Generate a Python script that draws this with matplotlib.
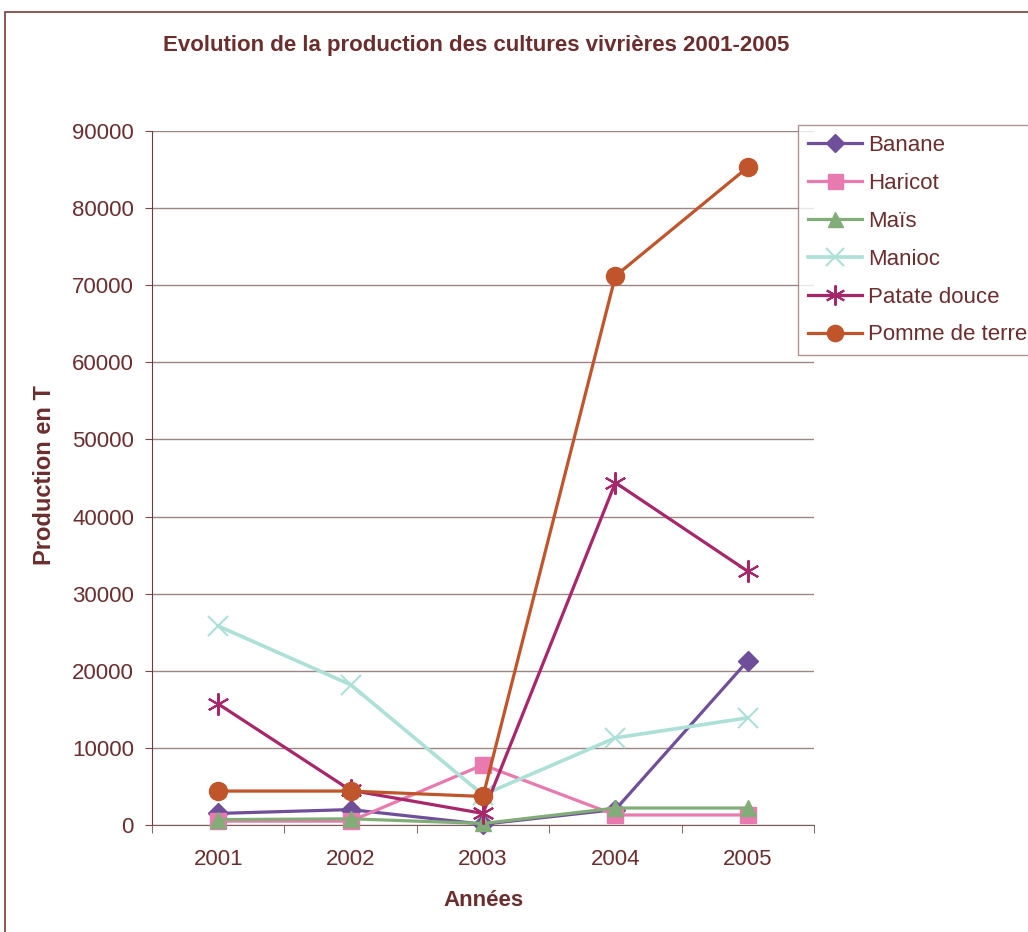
import matplotlib
matplotlib.use("Agg")
import matplotlib.pyplot as plt
from matplotlib.patches import Rectangle

plt.rcParams['font.family'] = ['Liberation Sans', 'DejaVu Sans']

years = ["2001", "2002", "2003", "2004", "2005"]
banane = [1500, 2000, 100, 2000, 21300]
haricot = [500, 500, 7800, 1300, 1300]
mais = [700, 800, 200, 2200, 2200]
manioc = [25800, 18200, 3900, 11300, 13900]
patate_douce = [15700, 4500, 1500, 44400, 32900]
pomme_de_terre = [4400, 4400, 3700, 71200, 85300]

series = [
    ("Banane", banane, "#6f4f99", "D", 10, 2.3),
    ("Haricot", haricot, "#e87aaf", "s", 12, 2.3),
    ("Maïs", mais, "#82ad78", "^", 12, 2.3),
    ("Manioc", manioc, "#ade0d6", "x", 14, 2.6),
    ("Patate douce", patate_douce, "#a8266a", (6, 2, 0), 16, 2.3),
    ("Pomme de terre", pomme_de_terre, "#c0552b", "o", 13, 2.3),
]

W, H = 1028, 932
fig = plt.figure(figsize=(W / 100, H / 100), dpi=100)
ax = fig.add_axes([152 / W, 1 - 825 / H, (814 - 152) / W, (825 - 131) / H])

x = list(range(len(years)))
for name, vals, col, mk, ms, lw in series:
    ax.plot(x, vals, color=col, lw=lw, marker=mk, ms=ms, mfc=col, mec=col,
            mew=1.5 if mk in ("x", (6, 2, 0)) else 1, label=name, clip_on=False, zorder=3)

textcol = "#6b2d2d"
gridcol = "#9c8585"
ax.set_xlim(-0.5, 4.5)
ax.set_ylim(0, 90000)
ax.set_yticks(range(0, 90001, 10000))
ax.set_yticklabels([str(v) for v in range(0, 90001, 10000)])
ax.set_xticks(x)
ax.set_xticklabels(years)
ax.set_xticks([i - 0.5 for i in range(6)], minor=True)
ax.tick_params(axis='x', which='major', length=0, pad=17, labelsize=16, labelcolor=textcol)
ax.tick_params(axis='x', which='minor', length=5.5, direction='out', color="#7a4a4a")
ax.tick_params(axis='y', length=5, direction='out', color="#7a4a4a", labelsize=16,
               labelcolor=textcol, pad=8)
ax.yaxis.grid(True, color=gridcol, lw=1)
ax.set_axisbelow(True)
for s in ["top", "right"]:
    ax.spines[s].set_visible(False)
ax.spines["left"].set_color("#6b3a3a")
ax.spines["bottom"].set_color("#7a5a5a")

fig.text(476 / W, 1 - 45 / H, "Evolution de la production des cultures vivrières 2001-2005",
         ha="center", va="center", fontsize=16, fontweight="bold", color=textcol)
fig.text(45 / W, 1 - 475 / H, "Production en T", rotation=90, ha="center", va="center",
         fontsize=17, fontweight="bold", color=textcol)
fig.text(483 / W, 1 - 900 / H, "Années", ha="center", va="center",
         fontsize=16, fontweight="bold", color=textcol)

leg = fig.legend(loc="upper left", bbox_to_anchor=(798 / W, 1 - 125 / H), fontsize=16,
                 frameon=True, fancybox=False, edgecolor="#9c7a7a", labelcolor=textcol,
                 handlelength=2.45, handletextpad=0.27, labelspacing=0.76, borderpad=0.45,
                 borderaxespad=0, markerscale=0.9)
leg.get_frame().set_linewidth(1)

fig.patches.append(Rectangle((5 / W, -0.1), 1.2, 1.1 - 12 / H, transform=fig.transFigure,
                             fill=False, edgecolor="#7a3a3a", lw=1.2, zorder=0))

fig.savefig("out.png", dpi=100)
